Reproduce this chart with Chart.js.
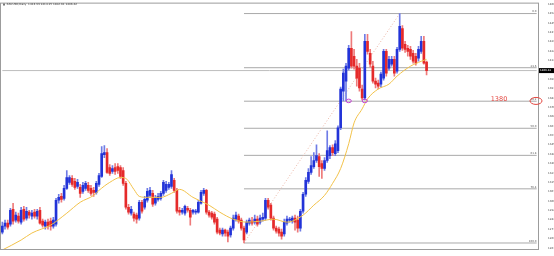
<!DOCTYPE html>
<html>
<head>
<meta charset="utf-8">
<title>XAUUSD Daily</title>
<script src="https://cdn.jsdelivr.net/npm/chart.js@4.4.1/dist/chart.umd.min.js"></script>
<style>
  html, body { margin: 0; padding: 0; background: #fff; }
  #wrap { width: 554px; height: 256px; }
</style>
</head>
<body>
<div id="wrap"><canvas id="myChart" width="554" height="256"></canvas></div>
<script>
'use strict';

// Daily candles
var openP = [
  1274.8, 1279.7, 1282.1, 1281.3, 1293.4, 1284.5, 1287.8, 1282.9, 1293.4, 1286.1,
  1291.0, 1287.8, 1291.0, 1287.8, 1292.6, 1283.7, 1279.7, 1282.9, 1283.7, 1279.7,
  1281.3, 1300.7, 1303.9, 1302.3, 1310.4, 1315.3, 1318.5, 1316.1, 1312.0, 1311.2,
  1308.0, 1310.4, 1312.8, 1310.4, 1308.8, 1307.2, 1313.7, 1320.1, 1337.9, 1339.6,
  1327.4, 1324.2, 1327.4, 1328.2, 1327.4, 1325.0, 1314.5, 1295.0, 1290.2, 1289.4,
  1288.6, 1286.1, 1299.1, 1295.0, 1300.7, 1304.7, 1306.4, 1298.3, 1301.5, 1302.3,
  1306.4, 1308.8, 1311.2, 1312.0, 1316.9, 1308.8, 1292.6, 1291.0, 1290.2, 1294.2,
  1292.6, 1291.0, 1291.0, 1291.0, 1298.3, 1306.4, 1308.8, 1291.0, 1290.2, 1289.4,
  1285.3, 1276.4, 1273.2, 1276.4, 1274.8, 1272.4, 1278.0, 1285.3, 1287.8, 1284.5,
  1278.0, 1274.8, 1282.1, 1283.7, 1282.9, 1285.3, 1282.9, 1285.3, 1286.1, 1300.7,
  1296.7, 1286.1, 1278.0, 1277.2, 1274.8, 1273.2, 1282.1, 1284.5, 1283.7, 1286.1,
  1284.5, 1278.0, 1291.8, 1305.6, 1316.1, 1323.4, 1328.2, 1333.1, 1336.3, 1330.7,
  1326.6, 1333.1, 1337.1, 1343.6, 1338.8, 1341.2, 1359.8, 1389.7, 1397.8, 1408.4,
  1424.6, 1418.1, 1410.0, 1408.4, 1391.4, 1384.1, 1430.2, 1420.5, 1410.0, 1397.8,
  1396.2, 1395.4, 1400.3, 1422.1, 1408.4, 1411.6, 1415.6, 1405.9, 1423.7, 1440.7,
  1427.8, 1424.6, 1423.7, 1420.5, 1418.1, 1416.5, 1422.1, 1430.2, 1413.33
];
var highP = [
  1282.9, 1284.5, 1284.5, 1294.2, 1298.3, 1291.0, 1290.2, 1295.0, 1295.8, 1295.0,
  1292.6, 1292.6, 1293.4, 1293.4, 1295.0, 1285.3, 1284.5, 1285.3, 1286.1, 1286.9,
  1302.3, 1305.6, 1306.4, 1312.8, 1325.0, 1320.9, 1320.9, 1318.5, 1317.7, 1313.7,
  1315.3, 1316.1, 1315.3, 1312.8, 1311.2, 1316.1, 1322.6, 1344.4, 1345.2, 1342.8,
  1329.8, 1329.0, 1330.7, 1330.7, 1329.0, 1327.4, 1316.1, 1297.5, 1295.8, 1291.0,
  1290.2, 1300.7, 1300.7, 1303.9, 1310.4, 1311.2, 1308.8, 1304.7, 1306.4, 1308.0,
  1316.9, 1316.1, 1315.3, 1325.0, 1318.5, 1310.4, 1295.0, 1294.2, 1296.7, 1295.8,
  1294.2, 1293.4, 1293.4, 1300.7, 1308.8, 1310.4, 1309.6, 1292.6, 1291.8, 1291.0,
  1286.9, 1278.0, 1278.0, 1277.2, 1276.4, 1279.7, 1288.6, 1291.0, 1289.4, 1286.1,
  1279.7, 1284.5, 1286.1, 1286.9, 1288.6, 1287.8, 1288.6, 1290.2, 1302.3, 1302.3,
  1298.3, 1287.8, 1279.7, 1278.8, 1277.2, 1285.3, 1287.8, 1286.9, 1287.8, 1288.6,
  1287.8, 1293.4, 1307.2, 1319.3, 1326.6, 1336.3, 1339.6, 1346.0, 1338.8, 1333.1,
  1335.5, 1357.4, 1345.2, 1346.0, 1349.3, 1361.4, 1393.0, 1407.6, 1412.4, 1427.0,
  1438.3, 1423.7, 1415.6, 1412.4, 1394.6, 1435.9, 1435.9, 1423.7, 1414.0, 1400.3,
  1398.7, 1405.1, 1423.7, 1423.7, 1418.1, 1418.1, 1418.1, 1425.4, 1452.9, 1443.2,
  1430.2, 1427.0, 1426.2, 1422.9, 1420.5, 1426.2, 1434.3, 1434.3, 1414.15
];
var lowP = [
  1273.2, 1277.2, 1277.2, 1279.7, 1281.3, 1282.9, 1282.1, 1281.3, 1283.7, 1284.5,
  1286.1, 1285.3, 1286.1, 1285.3, 1281.3, 1278.8, 1277.2, 1277.2, 1276.4, 1278.0,
  1279.7, 1298.3, 1299.1, 1300.7, 1309.6, 1313.7, 1312.0, 1309.6, 1310.4, 1303.1,
  1306.4, 1308.8, 1307.2, 1304.7, 1303.9, 1305.6, 1312.0, 1319.3, 1335.5, 1322.6,
  1320.9, 1322.6, 1321.7, 1322.6, 1318.5, 1312.8, 1293.4, 1289.4, 1288.6, 1283.7,
  1282.1, 1284.5, 1290.2, 1293.4, 1299.1, 1303.1, 1295.8, 1296.7, 1299.9, 1300.7,
  1304.7, 1307.2, 1309.6, 1310.4, 1307.2, 1290.2, 1288.6, 1289.4, 1288.6, 1291.0,
  1280.5, 1289.4, 1289.4, 1290.2, 1297.5, 1304.7, 1289.4, 1286.9, 1285.3, 1281.3,
  1273.2, 1272.4, 1271.5, 1271.5, 1266.7, 1270.7, 1276.4, 1283.7, 1282.1, 1276.4,
  1265.9, 1273.2, 1280.5, 1280.5, 1281.3, 1279.7, 1281.3, 1283.7, 1284.5, 1293.4,
  1284.5, 1276.4, 1274.0, 1271.5, 1269.1, 1271.5, 1280.5, 1282.9, 1282.1, 1276.4,
  1274.8, 1275.6, 1290.2, 1303.9, 1314.5, 1321.7, 1326.6, 1331.5, 1320.1, 1318.5,
  1325.0, 1331.5, 1334.7, 1337.1, 1337.1, 1339.6, 1358.2, 1381.7, 1381.7, 1406.7,
  1408.4, 1407.6, 1393.8, 1389.7, 1382.5, 1382.5, 1419.7, 1409.2, 1396.2, 1392.2,
  1391.4, 1393.0, 1398.7, 1401.9, 1406.7, 1410.0, 1401.9, 1404.3, 1422.1, 1422.9,
  1421.3, 1418.1, 1415.6, 1412.4, 1410.8, 1414.0, 1420.5, 1411.6, 1402.91
];
var closeP = [
  1279.7, 1282.1, 1278.8, 1292.6, 1283.7, 1288.6, 1283.7, 1292.6, 1285.3, 1291.8,
  1288.6, 1290.2, 1287.8, 1291.8, 1282.1, 1280.5, 1282.9, 1279.7, 1279.7, 1284.5,
  1300.7, 1303.1, 1301.5, 1310.4, 1319.3, 1319.3, 1313.7, 1311.2, 1315.3, 1306.4,
  1312.8, 1314.5, 1308.8, 1306.4, 1307.2, 1314.5, 1320.9, 1338.8, 1339.6, 1323.4,
  1322.6, 1326.6, 1324.2, 1325.0, 1320.1, 1314.5, 1295.0, 1291.0, 1293.4, 1286.1,
  1285.3, 1299.1, 1291.8, 1301.5, 1308.0, 1308.8, 1297.5, 1302.3, 1303.9, 1306.4,
  1315.3, 1313.7, 1313.7, 1321.7, 1308.8, 1291.8, 1291.0, 1292.6, 1295.8, 1292.6,
  1286.9, 1292.6, 1291.8, 1299.1, 1307.2, 1308.8, 1291.0, 1288.6, 1286.9, 1282.9,
  1274.8, 1274.0, 1276.4, 1274.0, 1271.5, 1278.0, 1286.1, 1288.6, 1283.7, 1278.0,
  1268.3, 1282.9, 1284.5, 1282.1, 1285.3, 1281.3, 1286.1, 1286.9, 1300.7, 1295.0,
  1286.1, 1278.0, 1275.6, 1274.0, 1271.5, 1282.9, 1285.3, 1285.3, 1286.1, 1282.9,
  1278.0, 1291.8, 1305.6, 1316.9, 1323.4, 1329.0, 1333.1, 1337.1, 1328.2, 1326.6,
  1333.1, 1341.2, 1343.6, 1339.6, 1346.8, 1359.8, 1391.4, 1404.3, 1410.0, 1424.6,
  1410.0, 1410.0, 1400.3, 1392.2, 1384.1, 1430.2, 1422.1, 1411.6, 1397.8, 1395.4,
  1393.8, 1403.5, 1422.1, 1404.3, 1415.6, 1415.6, 1404.3, 1423.7, 1442.4, 1424.6,
  1423.7, 1422.1, 1418.1, 1414.0, 1412.4, 1423.7, 1430.2, 1412.4, 1406.42
];

// yellow moving average, read at points along the line (bar number, price)
var maIndex = [0, 7, 11, 18, 24, 29, 34, 36, 40, 44, 46, 49, 51, 54, 59, 63, 66, 71, 74, 77,
  81, 86, 91, 96, 101, 106, 112, 116, 120, 123, 126, 129, 131, 134, 136, 140, 144, 147, 152, 156, 158];
var maValue = [1260.2, 1268.3, 1274.0, 1280.5, 1290.2, 1299.1, 1304.7, 1308.8, 1315.3, 1319.3,
  1318.5, 1309.6, 1303.9, 1303.1, 1303.1, 1306.4, 1309.6, 1303.1, 1299.9, 1296.7,
  1291.0, 1285.3, 1282.9, 1283.7, 1285.3, 1282.9, 1288.6, 1296.7, 1304.7, 1314.5,
  1326.6, 1346.8, 1363.8, 1375.2, 1383.3, 1391.4, 1395.4, 1401.9, 1410.0, 1414.0, 1415.6];

// fibonacci retracement from the april low to the july high
var fibLow = 1265.9;
var fibHigh = 1452.9;
var fibLowBar = 90;
var fibHighBar = 148;
var fibLevels = [0, 23.6, 38.2, 50, 61.8, 76.4, 100];

var lastPrice = 1406.42;
var noteText = '1380';
var notePrice = 1381.7;
var touchBars = [129, 135];
var emptySlots = 41;

var yTicks = [1460.54, 1452.90, 1445.26, 1437.62, 1429.98, 1422.34, 1414.70, 1407.06, 1399.42,
  1391.78, 1384.14, 1376.50, 1368.86, 1361.22, 1353.58, 1345.94, 1338.30, 1330.66, 1323.02,
  1315.38, 1307.74, 1300.10, 1292.46, 1284.82, 1277.18, 1269.54, 1261.90];
var xTickLabels = ['28 Dec 2018', '9 Jan 2019', '18 Jan 2019', '29 Jan 2019', '7 Feb 2019',
  '18 Feb 2019', '27 Feb 2019', '8 Mar 2019', '19 Mar 2019', '28 Mar 2019', '8 Apr 2019',
  '17 Apr 2019', '26 Apr 2019', '7 May 2019', '16 May 2019', '27 May 2019', '5 Jun 2019',
  '14 Jun 2019', '25 Jun 2019', '4 Jul 2019', '15 Jul 2019', '23 Jul 2019', '1 Aug 2019'];
var titleText = 'XAUUSD,Daily  1413.33 1414.15 1402.91 1406.42';

var UP = '#2233d8';
var DOWN = '#e52a2a';
var tiny = { family: 'DejaVu Sans', size: 2.7 };

var slots = [];
for (var s = 0; s < openP.length + emptySlots; s++) {
  slots.push(s);
}
var lastSlot = slots.length - 1;

function fibPrice(level) {
  return fibHigh - (fibHigh - fibLow) * level / 100;
}

function isUp(i) {
  return closeP[i] >= openP[i];
}

var fibSets = fibLevels.map(function (lv) {
  return {
    type: 'line',
    data: [{ x: fibLowBar, y: fibPrice(lv) }, { x: lastSlot, y: fibPrice(lv) }],
    borderColor: '#a9a9a9',
    borderWidth: 1,
    pointRadius: 0,
    order: 6
  };
});

var datasets = [
  {
    type: 'line',
    data: maIndex.map(function (b, k) { return { x: b, y: maValue[k] }; }),
    borderColor: '#f2c24a',
    borderWidth: 1,
    pointRadius: 0,
    cubicInterpolationMode: 'monotone',
    order: 0
  },
  {
    type: 'bar',
    data: openP.map(function (o, i) { return [o, closeP[i]]; }),
    backgroundColor: function (c) { return isUp(c.dataIndex) ? UP : DOWN; },
    barThickness: 2,
    minBarLength: 1,
    grouped: false,
    order: 1
  },
  {
    type: 'bar',
    data: lowP.map(function (l, i) { return [l, highP[i]]; }),
    backgroundColor: function (c) { return isUp(c.dataIndex) ? '#6f7ce6' : '#ee7a7a'; },
    barThickness: 1,
    grouped: false,
    order: 2
  },
  {
    type: 'line',
    data: [{ x: fibLowBar, y: fibLow }, { x: fibHighBar, y: fibHigh }],
    borderColor: '#eab4a4',
    borderWidth: 1,
    borderDash: [1, 2],
    pointRadius: 0,
    order: 3
  },
  {
    type: 'line',
    data: [{ x: 0, y: lastPrice }, { x: lastSlot, y: lastPrice }],
    borderColor: '#bdbdbd',
    borderWidth: 1,
    pointRadius: 0,
    order: 4
  }
].concat(fibSets);

var markup = {
  id: 'markup',
  afterDatasetsDraw: function (chart) {
    var ctx = chart.ctx;
    var xs = chart.scales.x;
    var ys = chart.scales.y;
    var area = chart.chartArea;
    ctx.save();
    ctx.font = '2.7px "DejaVu Sans"';
    ctx.fillStyle = '#555';
    ctx.textAlign = 'right';
    ctx.textBaseline = 'bottom';
    fibLevels.forEach(function (lv) {
      ctx.fillText(lv.toFixed(1), area.right - 1.5, ys.getPixelForValue(fibPrice(lv)) - 0.5);
    });
    ctx.strokeStyle = '#c445d4';
    ctx.lineWidth = 1;
    touchBars.forEach(function (b) {
      ctx.beginPath();
      ctx.ellipse(xs.getPixelForValue(b), ys.getPixelForValue(notePrice), 2.6, 1.8, 0, 0, Math.PI * 2);
      ctx.stroke();
    });
    ctx.fillStyle = '#e4463f';
    ctx.font = '6.5px "DejaVu Sans"';
    ctx.textAlign = 'center';
    ctx.textBaseline = 'alphabetic';
    ctx.fillText(noteText, area.right - 39, ys.getPixelForValue(notePrice) + 0.5);
    ctx.restore();
  },
  afterDraw: function (chart) {
    var ctx = chart.ctx;
    var ys = chart.scales.y;
    var area = chart.chartArea;
    ctx.save();
    // frame round the plot
    ctx.strokeStyle = '#9c9c9c';
    ctx.lineWidth = 1;
    ctx.strokeRect(area.left - 0.5, area.top - 0.5, area.right - area.left + 1, area.bottom - area.top + 1);
    // last price box
    var py = ys.getPixelForValue(lastPrice);
    ctx.fillStyle = '#000';
    ctx.fillRect(area.right + 1, py - 2.5, chart.width - area.right - 1, 5);
    ctx.fillStyle = '#fff';
    ctx.font = '2.7px "DejaVu Sans"';
    ctx.textAlign = 'left';
    ctx.textBaseline = 'middle';
    ctx.fillText(lastPrice.toFixed(2), area.right + 2, py);
    // hand drawn ring on the axis
    ctx.strokeStyle = '#e4463f';
    ctx.beginPath();
    ctx.ellipse(area.right - 2, ys.getPixelForValue(notePrice), 6, 3.5, 0, 0, Math.PI * 2);
    ctx.stroke();
    // title
    ctx.fillStyle = '#777';
    ctx.fillRect(area.left + 2, 3.5, 2, 2);
    ctx.fillStyle = '#333';
    ctx.font = '2.8px "DejaVu Sans"';
    ctx.textAlign = 'left';
    ctx.fillText(titleText, area.left + 5.5, 4.6);
    ctx.restore();
  }
};

var ctx = document.getElementById('myChart').getContext('2d');
var chart = new Chart(ctx, {
  type: 'bar',
  data: { labels: slots, datasets: datasets },
  plugins: [markup],
  options: {
    responsive: false,
    animation: false,
    layout: { padding: { left: 1, top: 2, right: 0, bottom: 0 } },
    plugins: { legend: { display: false }, tooltip: { enabled: false } },
    scales: {
      x: {
        type: 'category',
        offset: true,
        grid: { display: false },
        border: { display: false },
        ticks: {
          autoSkip: false,
          maxRotation: 0,
          minRotation: 0,
          align: 'start',
          padding: 1,
          color: '#444',
          font: tiny,
          callback: function (v, i) {
            return (i % 7 === 0 && xTickLabels[i / 7]) ? xTickLabels[i / 7] : '';
          }
        },
        afterFit: function (scale) { scale.height = 7; }
      },
      y: {
        position: 'right',
        min: 1261,
        max: 1461,
        grid: { display: false },
        border: { display: false },
        afterBuildTicks: function (scale) {
          scale.ticks = yTicks.map(function (v) { return { value: v }; });
        },
        ticks: {
          padding: 2,
          color: '#444',
          font: tiny,
          callback: function (v) { return Number(v).toFixed(2); }
        },
        afterFit: function (scale) { scale.width = 16; }
      }
    }
  }
});
</script>
</body>
</html>
